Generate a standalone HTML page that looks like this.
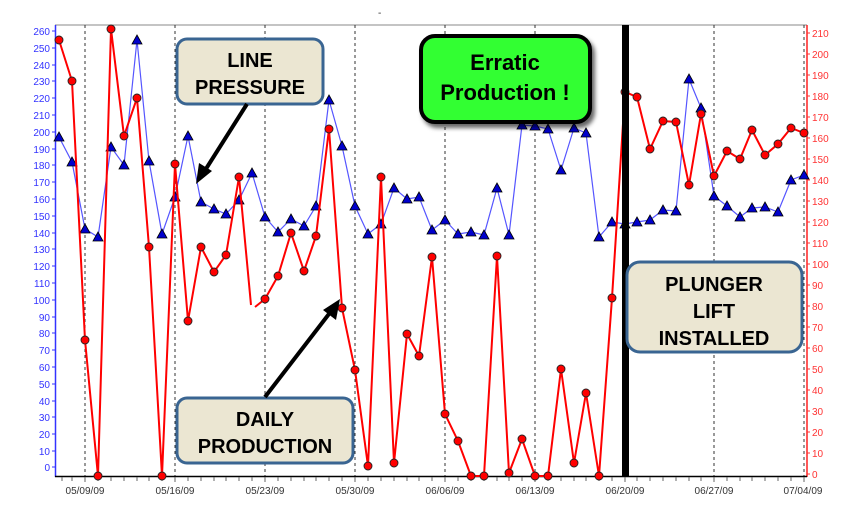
<!DOCTYPE html>
<html><head><meta charset="utf-8"><style>
html,body{margin:0;padding:0;background:#fff;}
svg{display:block;font-family:"Liberation Sans",sans-serif;}
</style></head><body>
<svg width="865" height="515" viewBox="0 0 865 515" xmlns="http://www.w3.org/2000/svg">
<defs>
<marker id="tri" markerWidth="12" markerHeight="12" refX="6" refY="6" markerUnits="userSpaceOnUse"><polygon points="6,1 11,10 1,10" fill="#0000cc" stroke="#000" stroke-width="0.8"/></marker>
<marker id="dot" markerWidth="12" markerHeight="12" refX="6" refY="6" markerUnits="userSpaceOnUse"><circle cx="6" cy="6" r="4" fill="#ff0000" stroke="#222" stroke-width="0.9"/></marker>
<filter id="sh" x="-10%" y="-10%" width="130%" height="130%"><feDropShadow dx="3" dy="4" stdDeviation="2" flood-color="#000" flood-opacity="0.6"/></filter>
</defs>
<rect width="865" height="515" fill="#fff"/>
<line x1="55" y1="25" x2="807" y2="25" stroke="#888" stroke-width="1"/>
<g stroke="#333" stroke-width="1" stroke-dasharray="3,3">
<line x1="85" y1="25" x2="85" y2="476"/><line x1="175" y1="25" x2="175" y2="476"/>
<line x1="265" y1="25" x2="265" y2="476"/><line x1="355" y1="25" x2="355" y2="476"/>
<line x1="445" y1="25" x2="445" y2="476"/><line x1="535" y1="25" x2="535" y2="476"/>
<line x1="714" y1="25" x2="714" y2="476"/><line x1="804" y1="25" x2="804" y2="476"/>
</g>
<line x1="55.5" y1="25" x2="55.5" y2="477" stroke="#3333ff" stroke-width="1.5"/>
<line x1="807" y1="25" x2="807" y2="477" stroke="#ff2222" stroke-width="1.5"/>
<line x1="55" y1="476.5" x2="807" y2="476.5" stroke="#000" stroke-width="1.5"/>
<g stroke="#666" stroke-width="1">
<path d="M62 477v4M72 477v4M85 477v5M98 477v4M111 477v4M124 477v4M137 477v4M149 477v4M162 477v4M175 477v5M188 477v4M201 477v4M214 477v4M226 477v4M239 477v4M252 477v4M265 477v5M278 477v4M291 477v4M304 477v4M316 477v4M329 477v4M342 477v4M355 477v5M368 477v4M381 477v4M394 477v4M407 477v4M419 477v4M432 477v4M445 477v5M458 477v4M471 477v4M484 477v4M497 477v4M509 477v4M522 477v4M535 477v5M548 477v4M561 477v4M574 477v4M586 477v4M599 477v4M612 477v4M625 477v5M637 477v4M650 477v4M663 477v4M676 477v4M689 477v4M701 477v4M714 477v5M727 477v4M740 477v4M752 477v4M765 477v4M778 477v4M791 477v4M804 477v5"/>
</g>
<g fill="#3333ff" font-size="10" text-anchor="end">
<text x="50" y="35">260</text><text x="50" y="52">250</text><text x="50" y="69">240</text><text x="50" y="85">230</text><text x="50" y="102">220</text><text x="50" y="119">210</text><text x="50" y="136">200</text><text x="50" y="153">190</text><text x="50" y="169">180</text><text x="50" y="186">170</text><text x="50" y="203">160</text><text x="50" y="220">150</text><text x="50" y="237">140</text><text x="50" y="253">130</text><text x="50" y="270">120</text><text x="50" y="287">110</text><text x="50" y="304">100</text><text x="50" y="321">90</text><text x="50" y="337">80</text><text x="50" y="354">70</text><text x="50" y="371">60</text><text x="50" y="388">50</text><text x="50" y="405">40</text><text x="50" y="421">30</text><text x="50" y="438">20</text><text x="50" y="455">10</text><text x="50" y="471">0</text>
</g>
<g stroke="#3333ff"><path d="M52 31h3M52 48h3M52 65h3M52 81h3M52 98h3M52 115h3M52 132h3M52 149h3M52 165h3M52 182h3M52 199h3M52 216h3M52 233h3M52 249h3M52 266h3M52 283h3M52 300h3M52 317h3M52 333h3M52 350h3M52 367h3M52 384h3M52 401h3M52 417h3M52 434h3M52 451h3M52 467h3"/></g>
<g fill="#ff3333" font-size="10">
<text x="812" y="37">210</text><text x="812" y="58">200</text><text x="812" y="79">190</text><text x="812" y="100">180</text><text x="812" y="121">170</text><text x="812" y="142">160</text><text x="812" y="163">150</text><text x="812" y="184">140</text><text x="812" y="205">130</text><text x="812" y="226">120</text><text x="812" y="247">110</text><text x="812" y="268">100</text><text x="812" y="289">90</text><text x="812" y="310">80</text><text x="812" y="331">70</text><text x="812" y="352">60</text><text x="812" y="373">50</text><text x="812" y="394">40</text><text x="812" y="415">30</text><text x="812" y="436">20</text><text x="812" y="457">10</text><text x="812" y="478">0</text>
</g>
<g stroke="#ff3333"><path d="M807 33h3M807 54h3M807 75h3M807 96h3M807 117h3M807 138h3M807 159h3M807 180h3M807 201h3M807 222h3M807 243h3M807 264h3M807 285h3M807 306h3M807 327h3M807 348h3M807 369h3M807 390h3M807 411h3M807 432h3M807 453h3M807 474h3"/></g>
<g fill="#333" font-size="10" text-anchor="middle">
<text x="85" y="494">05/09/09</text><text x="175" y="494">05/16/09</text><text x="265" y="494">05/23/09</text><text x="355" y="494">05/30/09</text><text x="445" y="494">06/06/09</text><text x="535" y="494">06/13/09</text><text x="625" y="494">06/20/09</text><text x="714" y="494">06/27/09</text><text x="803" y="494">07/04/09</text>
</g>
<text x="378" y="16" font-size="10" fill="#333">-</text>
<polyline fill="none" stroke="#5555ff" stroke-width="1.2" marker-start="url(#tri)" marker-mid="url(#tri)" marker-end="url(#tri)"
points="59,137 72,162 85,229 98,237 111,147 124,165 137,40 149,161 162,234 175,197 188,136 201,202 214,209 226,214 239,200 252,173 265,217 278,232 291,219 304,226 316,206 329,100 342,146 355,206 368,234 381,224 394,188 407,199 419,197 432,230 445,220 458,234 471,232 484,235 497,188 509,235 522,125 535,126 548,129 561,170 574,128 586,133 599,237 612,222 625,224 637,222 650,220 663,210 676,211 689,79 701,108 714,196 727,206 740,217 752,208 765,207 778,212 791,180 804,175"/>
<polyline fill="none" stroke="#ff0000" stroke-width="2" marker-start="url(#dot)" marker-mid="url(#dot)"
points="59,40 72,81 85,340 98,476 111,29 124,136 137,98 149,247 162,476 175,164 188,321 201,247 214,272 226,255 239,177 251,305"/>
<polyline fill="none" stroke="#ff0000" stroke-width="2" marker-mid="url(#dot)" marker-end="url(#dot)"
points="255,307 265,299 278,276 291,233 304,271 316,236 329,129 342,308 355,370 368,466 381,177 394,463 407,334 419,356 432,257 445,414 458,441 471,476 484,476 497,256 509,473 522,439 535,476 548,476 561,369 574,463 586,393 599,476 612,298 625,92 637,97 650,149 663,121 676,122 689,185 701,114 714,176 727,151 740,159 752,130 765,155 778,144 791,128 804,133"/>
<rect x="622" y="25" width="7" height="452" fill="#000"/>
<rect x="177" y="39" width="146" height="65" rx="10" fill="#ebe6d2" stroke="#3a6592" stroke-width="3"/>
<text x="250" y="67" font-size="20" font-weight="bold" text-anchor="middle" fill="#000">LINE</text>
<text x="250" y="94" font-size="20" font-weight="bold" text-anchor="middle" fill="#000">PRESSURE</text>
<line x1="247" y1="104" x2="204" y2="172" stroke="#000" stroke-width="4"/>
<polygon points="196,184 199,163 212,171" fill="#000"/>
<rect x="177" y="398" width="176" height="65" rx="10" fill="#ebe6d2" stroke="#3a6592" stroke-width="3"/>
<text x="265" y="426" font-size="20" font-weight="bold" text-anchor="middle" fill="#000">DAILY</text>
<text x="265" y="453" font-size="20" font-weight="bold" text-anchor="middle" fill="#000">PRODUCTION</text>
<line x1="265" y1="397" x2="332" y2="310" stroke="#000" stroke-width="4"/>
<polygon points="340,299 336,320 323,310" fill="#000"/>
<rect x="421" y="36" width="169" height="86" rx="14" fill="#33ff33" stroke="#000" stroke-width="4" filter="url(#sh)"/>
<text x="505" y="70" font-size="22" font-weight="bold" text-anchor="middle" fill="#000">Erratic</text>
<text x="505" y="100" font-size="22" font-weight="bold" text-anchor="middle" fill="#000">Production !</text>
<rect x="627" y="262" width="175" height="90" rx="13" fill="#ebe6d2" stroke="#3a6592" stroke-width="3"/>
<text x="714" y="291" font-size="20" font-weight="bold" text-anchor="middle" fill="#000">PLUNGER</text>
<text x="714" y="318" font-size="20" font-weight="bold" text-anchor="middle" fill="#000">LIFT</text>
<text x="714" y="345" font-size="20" font-weight="bold" text-anchor="middle" fill="#000">INSTALLED</text>
</svg>
</body></html>
